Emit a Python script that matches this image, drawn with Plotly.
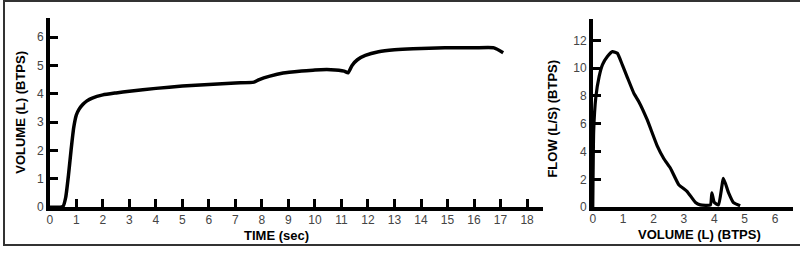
import plotly.graph_objects as go

# Volume-time curve
time_s = [0, 0.4, 0.5, 0.6, 0.7, 0.8, 0.9, 1.0, 1.1, 1.25, 1.4, 1.6, 2.0, 2.5, 3.0, 4.0, 5.0, 6.0,
          7.0, 7.7, 7.9, 8.3, 8.8, 9.5, 10.0, 10.6, 11.1, 11.25, 11.4, 11.6, 11.9, 12.4, 13.0,
          13.7, 14.9, 16.0, 16.75, 17.1]
volume_l = [0, 0, 0.03, 0.35, 1.1, 2.0, 2.8, 3.25, 3.45, 3.63, 3.75, 3.85, 3.96, 4.03, 4.09, 4.19,
            4.27, 4.33, 4.38, 4.41, 4.5, 4.62, 4.73, 4.8, 4.84, 4.85, 4.8, 4.74, 5.0, 5.2, 5.35,
            5.48, 5.55, 5.59, 5.62, 5.62, 5.62, 5.45]

# Flow-volume curve
fv_volume = [0, 0.03, 0.1, 0.21, 0.32, 0.48, 0.65, 0.81, 0.97, 1.14, 1.36, 1.52, 1.79, 2.12, 2.34,
             2.56, 2.83, 3.1, 3.38, 3.54, 3.87, 3.92, 4.0, 4.14, 4.3, 4.47, 4.63, 4.85]
fv_flow = [0, 5.5, 7.9, 9.4, 10.25, 10.84, 11.19, 11.07, 10.25, 9.32, 8.15, 7.57, 6.29, 4.41, 3.48,
           2.78, 1.61, 1.14, 0.33, 0.16, 0.16, 1.03, 0.33, 0.16, 2.08, 1.03, 0.33, 0.1]

left_xticks = list(range(0, 19))
left_yticks = list(range(0, 7))
right_xticks = list(range(0, 7))
right_yticks = [0, 2, 4, 6, 8, 10, 12]

W, H = 800, 255
def px(x): return x / W
def py(y): return 1 - y / H

fig = go.Figure()
fig.add_trace(go.Scatter(x=time_s, y=volume_l, mode="lines",
                         line=dict(color="black", width=3.5, shape="spline", smoothing=0.5),
                         xaxis="x", yaxis="y", showlegend=False))
fig.add_trace(go.Scatter(x=fv_volume, y=fv_flow, mode="lines",
                         line=dict(color="black", width=3.2, shape="spline", smoothing=0.4),
                         xaxis="x2", yaxis="y2", showlegend=False))

tickfont = dict(family="Liberation Sans, Arial", size=12, color="#444")
axcommon = dict(showgrid=False, zeroline=False, showline=True, linecolor="black",
                linewidth=3.5, tickfont=tickfont, ticklen=8, tickwidth=3, tickcolor="black",
                fixedrange=True)

fig.update_layout(
    width=W, height=H,
    margin=dict(l=0, r=0, t=0, b=0),
    paper_bgcolor="white", plot_bgcolor="white",
    xaxis=dict(domain=[px(47), px(542)], range=[0, 18.6], tickvals=left_xticks,
               ticks="inside", anchor="y", ticklabelstandoff=-1, **axcommon),
    yaxis=dict(domain=[py(213), py(18)], range=[0, 6.69], tickvals=left_yticks,
               ticks="inside", anchor="x", **axcommon),
    xaxis2=dict(domain=[px(592), px(793)], range=[0, 6.59], tickvals=right_xticks,
                ticks="", anchor="y2", ticklabelstandoff=-2, **axcommon),
    yaxis2=dict(domain=[py(213), py(20)], range=[0, 13.5], tickvals=right_yticks,
                ticks="inside", anchor="x2", **axcommon),
)

titlefont = dict(family="Liberation Sans, Arial", size=13, color="black")
ann = [
    dict(text="<b>TIME (sec)</b>", x=px(275), y=py(242)),
    dict(text="<b>VOLUME (L) (BTPS)</b>", x=px(18), y=py(115), textangle=-90),
    dict(text="<b>VOLUME (L) (BTPS)</b>", x=px(699), y=py(241)),
    dict(text="<b>FLOW (L/S) (BTPS)</b>", x=px(552), y=py(122), textangle=-90),
]
for a in ann:
    fig.add_annotation(xref="paper", yref="paper", showarrow=False, font=titlefont,
                       xanchor="center", yanchor="middle", **a)

border = dict(color="#333", width=2)
fig.add_shape(type="line", xref="paper", yref="paper", x0=0, x1=1, y0=py(1), y1=py(1), line=border)
fig.add_shape(type="line", xref="paper", yref="paper", x0=0, x1=1, y0=py(252), y1=py(252), line=border)
fig.add_shape(type="line", xref="paper", yref="paper", x0=px(1), x1=px(1), y0=py(0), y1=py(252), line=border)

fig.write_html("out.html")
